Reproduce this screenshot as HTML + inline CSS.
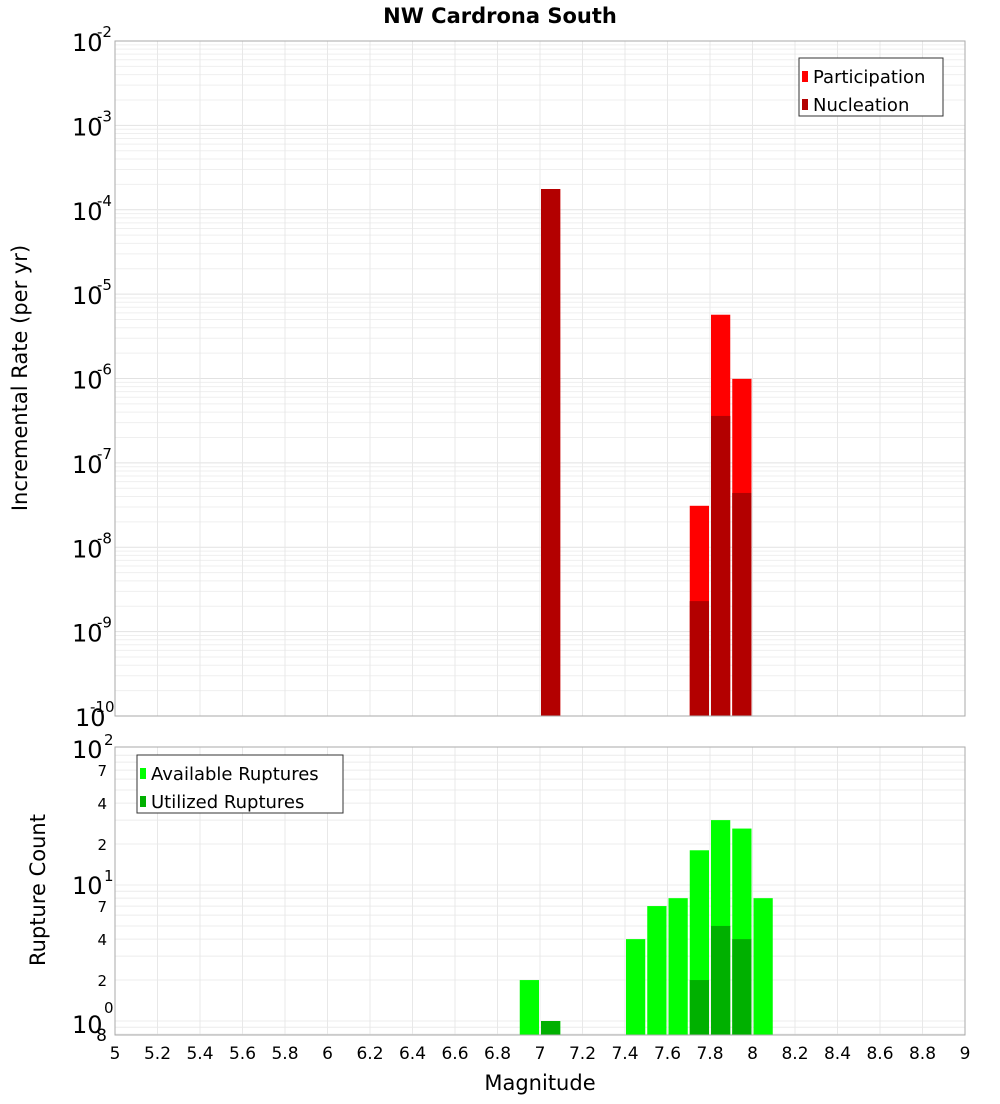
<!DOCTYPE html>
<html><head><meta charset="utf-8"><style>
body{margin:0;background:#fff;font-family:"DejaVu Sans","Liberation Sans",sans-serif;}
svg text{font-family:"DejaVu Sans","Liberation Sans",sans-serif;}
</style></head><body>
<svg id="c" width="1000" height="1100" xmlns="http://www.w3.org/2000/svg">
<text x="500" y="23" text-anchor="middle" font-size="21" font-weight="bold">NW Cardrona South</text>
<text transform="translate(27,378) rotate(-90)" text-anchor="middle" font-size="21">Incremental Rate (per yr)</text>
<text transform="translate(45,890) rotate(-90)" text-anchor="middle" font-size="21">Rupture Count</text>
<text x="540" y="1090" text-anchor="middle" font-size="21">Magnitude</text>
<g id="topplot"></g>
<g id="botplot"></g>
<g id="xt"></g>
</svg>
<script>
const topBins=[7.0,7.7,7.8,7.9];
const participation=[1.76e-4,3.1e-8,5.7e-6,9.9e-7];
const nucleation=[1.76e-4,2.3e-9,3.6e-7,4.4e-8];
const botBins=[6.9,7.0,7.4,7.5,7.6,7.7,7.8,7.9,8.0];
const available=[2,1,4,7,8,18,30,26,8];
const utilized=[0,1,0,0,0,2,5,4,0];
const xTicks=[5,5.2,5.4,5.6,5.8,6,6.2,6.4,6.6,6.8,7,7.2,7.4,7.6,7.8,8,8.2,8.4,8.6,8.8,9];
const topExp=[-2,-3,-4,-5,-6,-7,-8,-9,-10];
const botMinor=[2,4,7];

const NS="http://www.w3.org/2000/svg";
function mk(p,t,a,txt){const e=document.createElementNS(NS,t);for(const k in a)e.setAttribute(k,a[k]);if(txt!==undefined)e.textContent=txt;p.appendChild(e);return e;}
const X0=115,X1=965;
const xs=v=>X0+(v-5)/4*(X1-X0);
const T0=41,T1=716;
const ty=v=>T0+(-2-Math.log10(v))/8*(T1-T0);
const B0=747,B1=1035;
const byv=v=>1021-Math.log10(v)*136;

const topG=document.getElementById('topplot'),botG=document.getElementById('botplot'),xt=document.getElementById('xt');
for(let e=-10;e<-2;e++)for(let m=1;m<10;m++){const y=ty(m*Math.pow(10,e));if(y<T0||y>T1)continue;
 const l=mk(topG,'line',{x1:X0,x2:X1,y1:y,y2:y,stroke:m==1?'#e2e2e2':'#efefef','stroke-width':1});
 
 }
for(let e=-1;e<2;e++)for(let m=1;m<10;m++){const y=byv(m*Math.pow(10,e));if(y<B0||y>B1)continue;
 const l=mk(botG,'line',{x1:X0,x2:X1,y1:y,y2:y,stroke:'#ececec','stroke-width':1});
 
 }
xTicks.forEach(t=>{const x=xs(t);
 [[T0,T1,topG],[B0,B1,botG]].forEach(([a,b,g])=>{const l=mk(g,'line',{x1:x,x2:x,y1:a,y2:b,stroke:'#e8e8e8'});
 
 });
 const tx=mk(xt,'text',{x:x,y:1059,'text-anchor':'middle','font-size':17},String(t));
 
 });
const bw=(X1-X0)/40;
topBins.forEach((b,i)=>{const x=xs(b)+1,w=bw-2;
 let y=ty(participation[i]);let r=mk(topG,'rect',{x:x,y:y,width:w,height:T1-y,fill:'#ff0000'});
 
 
 y=ty(nucleation[i]);r=mk(topG,'rect',{x:x,y:y,width:w,height:T1-y,fill:'#b30000'});
 
 });
botBins.forEach((b,i)=>{const x=xs(b)+1,w=bw-2;
 let y=byv(available[i]);let r=mk(botG,'rect',{x:x,y:y,width:w,height:B1-y,fill:'#00ff00'});
 
 
 if(utilized[i]>0){y=byv(utilized[i]);r=mk(botG,'rect',{x:x,y:y,width:w,height:B1-y,fill:'#00b000'});
 
 }});
let f=mk(topG,'rect',{x:X0,y:T0,width:X1-X0,height:T1-T0,fill:'none',stroke:'#aaa'});


f=mk(botG,'rect',{x:X0,y:B0,width:X1-X0,height:B1-B0,fill:'none',stroke:'#aaa'});


topExp.forEach(e=>{const y=ty(Math.pow(10,e));
 const t=mk(topG,'text',{x:e==-10?75:72,y:y+10,'font-size':24},'10');
 
 
 const s=mk(topG,'text',{x:e==-10?90:97,y:y-4,'font-size':15},String(e));
 
 });
[[2,'10','2'],[1,'10','1'],[0,'10','0']].forEach(([e,b,s])=>{const y=byv(Math.pow(10,e));
 const t=mk(botG,'text',{x:72,y:y+(e==0?12:9),'font-size':24},b);
 
 
 const u=mk(botG,'text',{x:104,y:y-(e==0?8:4),'font-size':15},s);
 
 });
[1,10].forEach(d=>botMinor.forEach(m=>{const y=byv(m*d);
 const t=mk(botG,'text',{x:107,y:y+6,'font-size':15,'text-anchor':'end'},String(m));
 
 }));
let e8=mk(botG,'text',{x:107,y:1041,'font-size':17,'text-anchor':'end'},'8');


function legend(g,x,y,w,items,name){const lg=mk(g,'g',{});
 
 
 mk(lg,'rect',{x:x,y:y,width:w,height:58,fill:'#fff',stroke:'#333'});
 items.forEach(([c,l],i)=>{mk(lg,'rect',{x:x+3,y:y+13+i*28,width:6,height:11,fill:c});
 const t=mk(lg,'text',{x:x+14,y:y+25+i*28,'font-size':18},l);
 
 });}
legend(topG,799,58,144,[['#ff0000','Participation'],['#b30000','Nucleation']],'top-legend');
legend(botG,137,755,206,[['#00ff00','Available Ruptures'],['#00b000','Utilized Ruptures']],'bottom-legend');
</script>
</body></html>
